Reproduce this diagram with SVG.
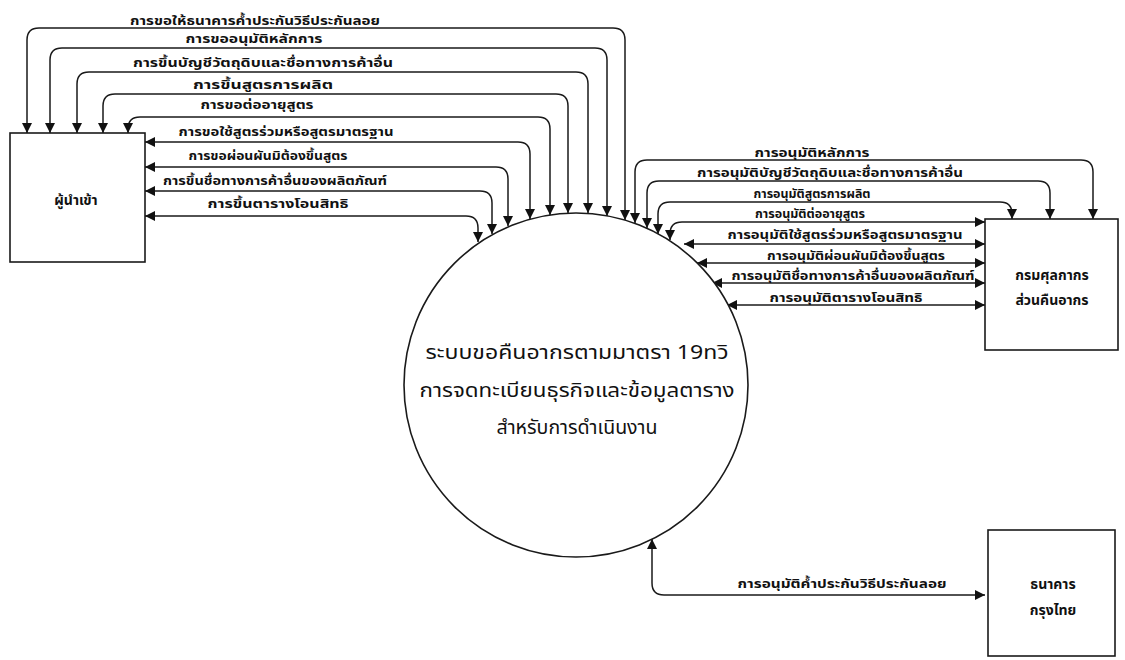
<svg xmlns="http://www.w3.org/2000/svg" width="1125" height="660" viewBox="0 0 1125 660">
<style>
.bg{fill:#ffffff}
.box{fill:#ffffff;stroke:#1a1a1a;stroke-width:1.6}
.flow{fill:none;stroke:#1a1a1a;stroke-width:1.5;marker-start:url(#ah);marker-end:url(#ah)}
.lbl{font-family:"Noto Sans Thai","Noto Sans","DejaVu Sans",sans-serif;font-size:12px;font-weight:bold;fill:#111;text-anchor:middle}
.nlbl{font-family:"Noto Sans Thai","Noto Sans","DejaVu Sans",sans-serif;font-size:14px;font-weight:bold;fill:#111;text-anchor:middle}
.ctr{font-family:"Noto Sans Thai","Noto Sans","DejaVu Sans",sans-serif;font-size:20px;fill:#111;text-anchor:middle}
</style>
<defs>
<marker id="ah" viewBox="0 0 10 10" refX="10" refY="5" markerWidth="11" markerHeight="10" markerUnits="userSpaceOnUse" orient="auto-start-reverse">
<path d="M0,0 L10,5 L0,10 z" fill="#111"/>
</marker>
</defs>
<rect class="bg" x="0" y="0" width="1125" height="660"/>

<g id="connectors">
<path class="flow" d="M27,133 L27,40 Q27,28 39,28 L613,28 Q625,28 625,40 L625,220"/>
<path class="flow" d="M50,133 L50,60 Q50,48 62,48 L595,48 Q607,48 607,60 L607,216"/>
<path class="flow" d="M77,133 L77,84 Q77,72 89,72 L576,72 Q588,72 588,84 L588,213"/>
<path class="flow" d="M103,133 L103,106 Q103,94 115,94 L556,94 Q568,94 568,106 L568,213"/>
<path class="flow" d="M128,133 L128,129 Q128,117 140,117 L538,117 Q550,117 550,129 L550,215"/>
<path class="flow" d="M145,142 L518,142 Q530,142 530,154 L530,219"/>
<path class="flow" d="M145,167 L496,167 Q508,167 508,179 L508,226"/>
<path class="flow" d="M145,191 L480,191 Q492,191 492,203 L492,234"/>
<path class="flow" d="M145,216 L466,216 Q478,216 478,228 L478,242"/>

<path class="flow" d="M635,223 L635,172 Q635,160 647,160 L1081,160 Q1093,160 1093,172 L1093,219"/>
<path class="flow" d="M647,228 L647,193 Q647,181 659,181 L1038,181 Q1050,181 1050,193 L1050,219"/>
<path class="flow" d="M658,234 L658,214 Q658,202 670,202 L1000,202 Q1012,202 1012,214 L1012,219"/>
<path class="flow" d="M670,240 L670,234 Q670,222 682,222 L985,222"/>
<path class="flow" d="M684,244 L985,244"/>
<path class="flow" d="M697,263 L985,263"/>
<path class="flow" d="M712,283 L985,283"/>
<path class="flow" d="M727,305 L985,305"/>

<path class="flow" d="M652,539 L652,583 Q652,595 664,595 L985,595"/>
</g>

<g id="labels">
<text class="lbl" x="255" y="25" textLength="250" lengthAdjust="spacingAndGlyphs">การขอให้ธนาคารค้ำประกันวิธีประกันลอย</text>
<text class="lbl" x="254" y="43" textLength="137" lengthAdjust="spacingAndGlyphs">การขออนุมัติหลักการ</text>
<text class="lbl" x="263" y="67" textLength="260" lengthAdjust="spacingAndGlyphs">การขึ้นบัญชีวัตถุดิบและชื่อทางการค้าอื่น</text>
<text class="lbl" x="263" y="89" textLength="140" lengthAdjust="spacingAndGlyphs">การขึ้นสูตรการผลิต</text>
<text class="lbl" x="257" y="109" textLength="113" lengthAdjust="spacingAndGlyphs">การขอต่ออายุสูตร</text>
<text class="lbl" x="286" y="136" textLength="215" lengthAdjust="spacingAndGlyphs">การขอใช้สูตรร่วมหรือสูตรมาตรฐาน</text>
<text class="lbl" x="268" y="160" textLength="159" lengthAdjust="spacingAndGlyphs">การขอผ่อนผันมิต้องขึ้นสูตร</text>
<text class="lbl" x="275" y="185" textLength="224" lengthAdjust="spacingAndGlyphs">การขึ้นชื่อทางการค้าอื่นของผลิตภัณฑ์</text>
<text class="lbl" x="278" y="208" textLength="141" lengthAdjust="spacingAndGlyphs">การขึ้นตารางโอนสิทธิ</text>

<text class="lbl" x="812" y="157" textLength="115" lengthAdjust="spacingAndGlyphs">การอนุมัติหลักการ</text>
<text class="lbl" x="830" y="177" textLength="266" lengthAdjust="spacingAndGlyphs">การอนุมัติบัญชีวัตถุดิบและชื่อทางการค้าอื่น</text>
<text class="lbl" x="812" y="198" textLength="117" lengthAdjust="spacingAndGlyphs">การอนุมัติสูตรการผลิต</text>
<text class="lbl" x="810" y="218" textLength="110" lengthAdjust="spacingAndGlyphs">การอนุมัติต่ออายุสูตร</text>
<text class="lbl" x="845" y="239" textLength="235" lengthAdjust="spacingAndGlyphs">การอนุมัติใช้สูตรร่วมหรือสูตรมาตรฐาน</text>
<text class="lbl" x="856" y="260" textLength="178" lengthAdjust="spacingAndGlyphs">การอนุมัติผ่อนผันมิต้องขึ้นสูตร</text>
<text class="lbl" x="853" y="280" textLength="243" lengthAdjust="spacingAndGlyphs">การอนุมัติชื่อทางการค้าอื่นของผลิตภัณฑ์</text>
<text class="lbl" x="846" y="302" textLength="153" lengthAdjust="spacingAndGlyphs">การอนุมัติตารางโอนสิทธิ</text>

<text class="lbl" x="842" y="588" textLength="209" lengthAdjust="spacingAndGlyphs">การอนุมัติค้ำประกันวิธีประกันลอย</text>
</g>

<g id="node-importer">
<rect class="box" x="10" y="133" width="135" height="129"/>
<text class="nlbl" x="76" y="205">ผู้นำเข้า</text>
</g>

<g id="node-system">
<circle class="box" cx="576" cy="385" r="172"/>
<text class="ctr" x="577" y="359" textLength="303" lengthAdjust="spacingAndGlyphs">ระบบขอคืนอากรตามมาตรา 19ทวิ</text>
<text class="ctr" x="577" y="397" textLength="315" lengthAdjust="spacingAndGlyphs">การจดทะเบียนธุรกิจและข้อมูลตาราง</text>
<text class="ctr" x="577" y="434" textLength="161" lengthAdjust="spacingAndGlyphs">สำหรับการดำเนินงาน</text>
</g>

<g id="node-customs">
<rect class="box" x="985" y="219" width="133" height="131"/>
<text class="nlbl" x="1052" y="280">กรมศุลกากร</text>
<text class="nlbl" x="1052" y="305">ส่วนคืนอากร</text>
</g>

<g id="node-bank">
<rect class="box" x="988" y="530" width="127" height="126"/>
<text class="nlbl" x="1053" y="589">ธนาคาร</text>
<text class="nlbl" x="1053" y="615">กรุงไทย</text>
</g>
</svg>
